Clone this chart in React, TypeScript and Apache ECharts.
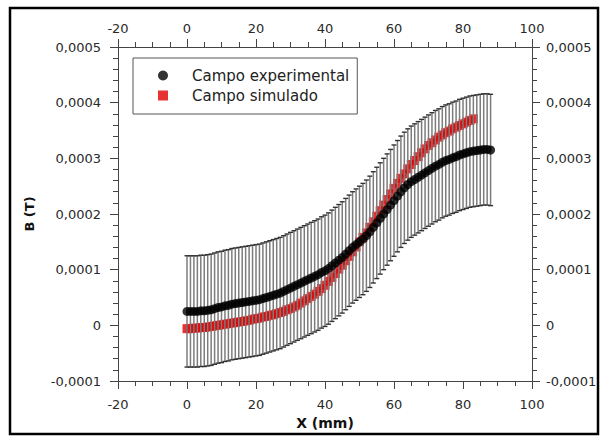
import React, { useEffect, useRef } from 'react';
import * as echarts from 'echarts';

// Experimental field (x in mm, B in units of 1e-4 T)
const X_EXP = [
  0, 1, 2, 3, 4, 5, 6, 7, 8, 9,
  10, 11, 12, 13, 14, 15, 16, 17, 18, 19,
  20, 21, 22, 23, 24, 25, 26, 27, 28, 29,
  30, 31, 32, 33, 34, 35, 36, 37, 38, 39,
  40, 41, 42, 43, 44, 45, 46, 47, 48, 49,
  50, 51, 52, 53, 54, 55, 56, 57, 58, 59,
  60, 61, 62, 63, 64, 65, 66, 67, 68, 69,
  70, 71, 72, 73, 74, 75, 76, 77, 78, 79,
  80, 81, 82, 83, 84, 85, 86, 87, 88,
];
const B_EXP_E4 = [
  0.25, 0.25, 0.25, 0.25, 0.26, 0.26, 0.27, 0.28, 0.30, 0.32,
  0.33, 0.35, 0.36, 0.38, 0.39, 0.40, 0.41, 0.42, 0.43, 0.44,
  0.45, 0.46, 0.48, 0.50, 0.52, 0.54, 0.56, 0.58, 0.61, 0.64,
  0.67, 0.70, 0.73, 0.76, 0.79, 0.82, 0.85, 0.88, 0.91, 0.95,
  0.98, 1.02, 1.07, 1.12, 1.17, 1.22, 1.28, 1.34, 1.40, 1.45,
  1.50, 1.55, 1.61, 1.68, 1.76, 1.84, 1.92, 2.00, 2.08, 2.16,
  2.24, 2.32, 2.40, 2.47, 2.53, 2.58, 2.62, 2.66, 2.70, 2.74,
  2.78, 2.82, 2.86, 2.89, 2.93, 2.96, 2.98, 3.01, 3.03, 3.06,
  3.08, 3.10, 3.12, 3.13, 3.14, 3.15, 3.16, 3.16, 3.15,
];
// error bar half-height (units of 1e-4 T)
const ERR_E4 = 1.0;

// Simulated field
const X_SIM = [
  0, 1, 2, 3, 4, 5, 6, 7, 8, 9,
  10, 11, 12, 13, 14, 15, 16, 17, 18, 19,
  20, 21, 22, 23, 24, 25, 26, 27, 28, 29,
  30, 31, 32, 33, 34, 35, 36, 37, 38, 39,
  40, 41, 42, 43, 44, 45, 46, 47, 48, 49,
  50, 51, 52, 53, 54, 55, 56, 57, 58, 59,
  60, 61, 62, 63, 64, 65, 66, 67, 68, 69,
  70, 71, 72, 73, 74, 75, 76, 77, 78, 79,
  80, 81, 82, 83,
];
const B_SIM_E4 = [
  -0.06, -0.06, -0.05, -0.05, -0.04, -0.04, -0.03, -0.02, -0.01, 0.00,
  0.01, 0.02, 0.03, 0.04, 0.05, 0.06, 0.07, 0.08, 0.09, 0.11,
  0.12, 0.13, 0.15, 0.16, 0.18, 0.19, 0.21, 0.23, 0.25, 0.28,
  0.30, 0.33, 0.36, 0.40, 0.44, 0.48, 0.52, 0.56, 0.61, 0.66,
  0.72, 0.79, 0.86, 0.93, 1.01, 1.08, 1.16, 1.24, 1.32, 1.41,
  1.50, 1.58, 1.66, 1.76, 1.86, 1.96, 2.06, 2.16, 2.26, 2.36,
  2.46, 2.55, 2.64, 2.72, 2.81, 2.89, 2.96, 3.03, 3.10, 3.17,
  3.23, 3.28, 3.33, 3.38, 3.42, 3.46, 3.49, 3.53, 3.56, 3.59,
  3.62, 3.65, 3.68, 3.71,
];

const SERIES_NAMES = ['Campo experimental', 'Campo simulado'];
const X_NAME = 'X (mm)';
const Y_NAME = 'B (T)';

export default function App() {
  const ref = useRef<HTMLDivElement>(null);

  useEffect(() => {
    const chart = echarts.init(ref.current!, null, { renderer: 'svg' });
    const exp = X_EXP.map((x, i) => [x, B_EXP_E4[i] * 1e-4]);
    const sim = X_SIM.map((x, i) => [x, B_SIM_E4[i] * 1e-4]);
    const err = X_EXP.map((x, i) => [x, (B_EXP_E4[i] - ERR_E4) * 1e-4, (B_EXP_E4[i] + ERR_E4) * 1e-4]);

    const font = 'DejaVu Sans';
    const lineStyle = { color: '#444', width: 1 };
    const fmtY = (v: number) => (Math.abs(v) < 1e-12 ? '0' : v.toFixed(4).replace('.', ','));
    const labelStyle = { color: '#2a2a2a', fontFamily: font, fontSize: 13 };

    const xBase = (pos: 'bottom' | 'top', margin: number) => ({
      type: 'value',
      position: pos,
      min: -20,
      max: 100,
      interval: 20,
      axisLine: { show: true, onZero: false, lineStyle },
      axisTick: { show: true, inside: false, length: 8, lineStyle },
      minorTick: { show: true, splitNumber: 4, length: 5, lineStyle },
      splitLine: { show: false },
      minorSplitLine: { show: false },
      axisLabel: { ...labelStyle, margin },
    });
    const yBase = (pos: 'left' | 'right', margin: number) => ({
      type: 'value',
      position: pos,
      min: -0.0001,
      max: 0.0005,
      interval: 0.0001,
      axisLine: { show: true, onZero: false, lineStyle },
      axisTick: { show: true, inside: false, length: 8, lineStyle },
      minorTick: { show: true, splitNumber: 5, length: 5, lineStyle },
      splitLine: { show: false },
      minorSplitLine: { show: false },
      axisLabel: { ...labelStyle, margin, formatter: fmtY },
    });

    chart.setOption({
      animation: false,
      backgroundColor: '#ffffff',
      textStyle: { fontFamily: font },
      grid: { left: 118, right: 70, top: 47, bottom: 57, containLabel: false },
      xAxis: [
        {
          ...xBase('bottom', 17),
          name: X_NAME,
          nameLocation: 'middle',
          nameGap: 33,
          nameTextStyle: { color: '#111', fontFamily: font, fontSize: 14, fontWeight: 'bold' },
        },
        xBase('top', 12),
      ],
      yAxis: [
        {
          ...yBase('left', 17),
          name: Y_NAME,
          nameLocation: 'middle',
          nameGap: 82,
          nameRotate: 90,
          nameTextStyle: { color: '#111', fontFamily: font, fontSize: 13, fontWeight: 'bold' },
        },
        yBase('right', 14),
      ],
      legend: {
        orient: 'vertical',
        left: 133,
        top: 58,
        padding: [10, 8, 11, 25],
        itemWidth: 48,
        itemHeight: 10,
        itemGap: 5,
        symbolKeepAspect: true,
        borderColor: '#555',
        borderWidth: 1,
        borderRadius: 0,
        backgroundColor: '#fff',
        textStyle: { color: '#222', fontFamily: font, fontSize: 15 },
        data: [
          { name: SERIES_NAMES[0], icon: 'circle', itemStyle: { color: '#000' } },
          { name: SERIES_NAMES[1], icon: 'path://M0,0L10,0L10,10L0,10Z', itemStyle: { color: '#e00000' } },
        ],
      },
      series: [
        {
          name: SERIES_NAMES[1],
          type: 'scatter',
          data: sim,
          symbol: 'rect',
          symbolSize: 9,
          itemStyle: { color: '#e00000' },
          z: 2,
        },
        {
          type: 'custom',
          data: err,
          encode: { x: 0, y: [1, 2] },
          z: 3,
          silent: true,
          renderItem: (params: any, api: any) => {
            const x = api.value(0);
            const lo = api.coord([x, api.value(1)]);
            const hi = api.coord([x, api.value(2)]);
            const w = 2.5;
            return {
              type: 'group',
              children: [
                { type: 'line', shape: { x1: lo[0], y1: lo[1], x2: hi[0], y2: hi[1] }, style: { stroke: '#7c7c7c', lineWidth: 1.5 } },
                { type: 'line', shape: { x1: lo[0] - w, y1: lo[1], x2: lo[0] + w, y2: lo[1] }, style: { stroke: '#333', lineWidth: 1.4 } },
                { type: 'line', shape: { x1: hi[0] - w, y1: hi[1], x2: hi[0] + w, y2: hi[1] }, style: { stroke: '#333', lineWidth: 1.4 } },
              ],
            };
          },
        },
        {
          name: SERIES_NAMES[0],
          type: 'scatter',
          data: exp,
          symbol: 'circle',
          symbolSize: 9,
          itemStyle: { color: '#000' },
          z: 4,
        },
      ],
      graphic: [
        {
          type: 'rect',
          shape: { x: 10, y: 8, width: 588, height: 426 },
          style: { fill: 'none', stroke: '#000', lineWidth: 2.5 },
          silent: true,
          z: 100,
        },
      ],
    });
    return () => chart.dispose();
  }, []);

  return (
    <div
      ref={ref}
      style={{ position: 'absolute', left: 0, top: 0, width: 602, height: 438, background: '#fff' }}
    />
  );
}
